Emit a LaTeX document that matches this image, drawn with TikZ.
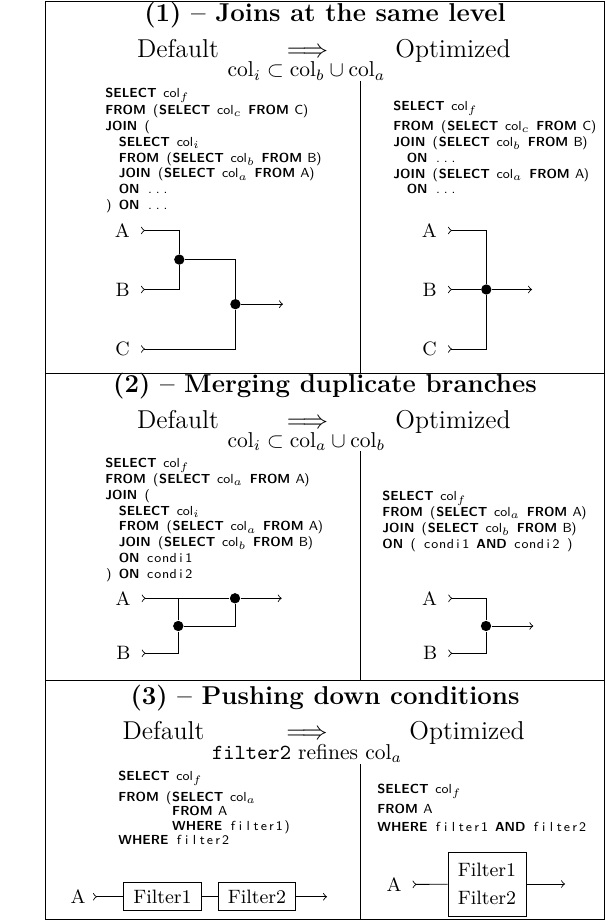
\documentclass[tikz,border=0pt]{standalone}
\usetikzlibrary{positioning}

\newlength{\cw}
\setlength{\cw}{3.1pt}
\def\fxi#1{\ifx#1\relax\else\makebox[\cw]{#1}\expandafter\fxi\fi}
\newcommand{\fx}[1]{\fxi#1\relax}
\newcommand{\id}[1]{{\setlength{\cw}{3.6pt}\fx{#1}}}
\newcommand{\kw}[1]{\textbf{#1}}

\begin{document}
\begin{tikzpicture}[x=0.465pt, y=-0.465pt, >=to]
        \tikzstyle{title} = [font=\large\bfseries, inner sep=0pt]
        \tikzstyle{head} = [font=\large, anchor=base, inner sep=0pt]
        \tikzstyle{cond} = [anchor=base, inner sep=0pt]
        \tikzstyle{sql} = [font=\sffamily\fontsize{6.1}{7.4}\selectfont, align=left, inner sep=0pt, anchor=north west]
        \tikzstyle{lbl} = [font=\small, inner xsep=5pt, anchor=east]
        \tikzstyle{dot} = [circle, fill, inner sep=0pt, minimum size=4.8pt]
        \tikzstyle{filt} = [draw, font=\small, inner xsep=4.5pt, minimum height=12.3pt]

        \useasboundingbox (0,0) rectangle (610,921);
        \draw (45,1) rectangle (604.5,919.5);
        \draw (45,373) -- (604.5,373);
        \draw (45,680) -- (604.5,680);
        \draw (360,81) -- (360,373);
        \draw (360,451) -- (360,680);
        \draw (360,764) -- (360,919.5);

        % (1) joins at the same level
        \node (title1) [title] at (325,15) {(1) -- Joins at the same level};
        \node (def1) [head] at (178,58) {Default};
        \node (arr1) [head] at (307.5,58) {$\Longrightarrow$};
        \node (cond1) [cond] at (306.5,77) {$\mathrm{col}_i \subset \mathrm{col}_b \cup \mathrm{col}_a$};
        \node (opt1) [head] at (453,58) {Optimized};

        \node (sqldef1) [sql] at (105,87.5) {\kw{SELECT}\fx{~}col$_f$\\[0.5pt]
            \kw{FROM}\fx{~(}\kw{SELECT}\fx{~}col$_c$\fx{~}\kw{FROM}\fx{~C)}\\
            \kw{JOIN}\fx{~(}\\
            \fx{~~}\kw{SELECT}\fx{~}col$_i$\\
            \fx{~~}\kw{FROM}\fx{~(}\kw{SELECT}\fx{~}col$_b$\fx{~}\kw{FROM}\fx{~B)}\\
            \fx{~~}\kw{JOIN}\fx{~(}\kw{SELECT}\fx{~}col$_a$\fx{~}\kw{FROM}\fx{~A)}\\
            \fx{~~}\kw{ON}\fx{~}\id{...}\\
            \fx{)~}\kw{ON}\fx{~}\id{...}};
        \node (sqlopt1) [sql] at (393,100.5) {\kw{SELECT}\fx{~}col$_f$\\[1.9pt]
            \kw{FROM}\fx{~(}\kw{SELECT}\fx{~}col$_c$\fx{~}\kw{FROM}\fx{~C)}\\
            \kw{JOIN}\fx{~(}\kw{SELECT}\fx{~}col$_b$\fx{~}\kw{FROM}\fx{~B)}\\
            \fx{~~}\kw{ON}\fx{~}\id{...}\\
            \kw{JOIN}\fx{~(}\kw{SELECT}\fx{~}col$_a$\fx{~}\kw{FROM}\fx{~A)}\\
            \fx{~~}\kw{ON}\fx{~}\id{...}};

        \node (a1) [lbl] at (141,230.5) {A};
        \node (b1) [lbl] at (141,289.5) {B};
        \node (c1) [lbl] at (141,349) {C};
        \node (j1) [dot] at (179.3,259.6) {};
        \node (j2) [dot] at (235.4,304.2) {};
        \coordinate (out1) at (283,304.2);
        \draw [>-] (a1) -| (j1);
        \draw [>-] (b1) -| (j1);
        \draw (j1) -| (j2);
        \draw [>-] (c1) -| (j2);
        \draw [->] (j2) -- (out1);

        \node (a2) [lbl] at (448,230.5) {A};
        \node (b2) [lbl] at (448,289.5) {B};
        \node (c2) [lbl] at (448,349) {C};
        \node (j3) [dot] at (486.3,289.5) {};
        \coordinate (out2) at (532,289.5);
        \draw [>-] (a2) -| (j3);
        \draw [>-] (b2) -- (j3);
        \draw [>-] (c2) -| (j3);
        \draw [->] (j3) -- (out2);

        % (2) merging duplicate branches
        \node (title2) [title] at (325,386.5) {(2) -- Merging duplicate branches};
        \node (def2) [head] at (178,428) {Default};
        \node (arr2) [head] at (307.5,428) {$\Longrightarrow$};
        \node (cond2) [cond] at (306.5,447) {$\mathrm{col}_i \subset \mathrm{col}_a \cup \mathrm{col}_b$};
        \node (opt2) [head] at (453,428) {Optimized};

        \node (sqldef2) [sql] at (105,457.5) {\kw{SELECT}\fx{~}col$_f$\\
            \kw{FROM}\fx{~(}\kw{SELECT}\fx{~}col$_a$\fx{~}\kw{FROM}\fx{~A)}\\
            \kw{JOIN}\fx{~(}\\
            \fx{~~}\kw{SELECT}\fx{~}col$_i$\\
            \fx{~~}\kw{FROM}\fx{~(}\kw{SELECT}\fx{~}col$_a$\fx{~}\kw{FROM}\fx{~A)}\\
            \fx{~~}\kw{JOIN}\fx{~(}\kw{SELECT}\fx{~}col$_b$\fx{~}\kw{FROM}\fx{~B)}\\
            \fx{~~}\kw{ON}\fx{~}\id{condi1}\\
            \fx{)~}\kw{ON}\fx{~}\id{condi2}};
        \node (sqlopt2) [sql] at (382,490.5) {\kw{SELECT}\fx{~}col$_f$\\
            \kw{FROM}\fx{~(}\kw{SELECT}\fx{~}col$_a$\fx{~}\kw{FROM}\fx{~A)}\\
            \kw{JOIN}\fx{~(}\kw{SELECT}\fx{~}col$_b$\fx{~}\kw{FROM}\fx{~B)}\\
            \kw{ON}\fx{~(~}\id{condi1}\fx{~}\kw{AND}\fx{~}\id{condi2}\fx{~)}};

        \node (a3) [lbl] at (141.7,598.3) {A};
        \node (b3) [lbl] at (141.7,653.3) {B};
        \node (j4) [dot] at (178.3,626) {};
        \node (j5) [dot] at (235,598.3) {};
        \coordinate (out3) at (281.7,598.3);
        \draw [>-] (a3) -- (j5);
        \draw (j4) -- (j4 |- a3);
        \draw [>-] (b3) -| (j4);
        \draw (j4) -| (j5);
        \draw [->] (j5) -- (out3);

        \node (a4) [lbl] at (448.3,598.3) {A};
        \node (b4) [lbl] at (448.3,653.3) {B};
        \node (j6) [dot] at (486,626) {};
        \coordinate (out4) at (533.3,626);
        \draw [>-] (a4) -| (j6);
        \draw [>-] (b4) -| (j6);
        \draw [->] (j6) -- (out4);

        % (3) pushing down conditions
        \node (title3) [title] at (325,698) {(3) -- Pushing down conditions};
        \node (def3) [head] at (163.5,739) {Default};
        \node (arr3) [head] at (307,739) {$\Longrightarrow$};
        \node (cond3) [cond] at (307,759) {\texttt{filter2} refines $\mathrm{col}_a$};
        \node (opt3) [head] at (467,739) {Optimized};

        \node (sqldef3) [sql, font=\sffamily\fontsize{6.1}{6.6}\selectfont] at (118,770.5) {\kw{SELECT}\fx{~}col$_f$\\[2pt]
            \kw{FROM}\fx{~(}\kw{SELECT}\fx{~}col$_a$\\
            \phantom{\kw{FROM}\fx{~(}}\kw{FROM}\fx{~A}\\
            \phantom{\kw{FROM}\fx{~(}}\kw{WHERE}\fx{~}\id{filter1)}\\
            \kw{WHERE}\fx{~}\id{filter2}};
        \node (sqlopt3) [sql, font=\sffamily\fontsize{6.1}{8.2}\selectfont] at (377,783.5) {\kw{SELECT}\fx{~}col$_f$\\[1.2pt]
            \kw{FROM}\fx{~A}\\
            \kw{WHERE}\fx{~}\id{filter1}\fx{~}\kw{AND}\fx{~}\id{filter2}};

        \node (a5) [lbl, inner xsep=3.3pt] at (93,896.75) {A};
        \node (f1) [filt] at (162.5,896.75) {Filter1};
        \node (f2) [filt, right=7.4pt of f1] {Filter2};
        \coordinate (out5) at (327,896.75);
        \draw [>-] (a5) -- (f1);
        \draw (f1) -- (f2);
        \draw [->] (f2) -- (out5);

        \node (a6) [lbl] at (412.6,884.5) {A};
        \node (f3) [filt, align=center, minimum width=36.3pt, minimum height=29.8pt] at (487,884) {Filter1\\[2pt]Filter2};
        \coordinate (out6) at (565,884);
        \draw [>-] (a6) -- (f3);
        \draw [->] (f3) -- (out6);
    \end{tikzpicture}
\end{document}
